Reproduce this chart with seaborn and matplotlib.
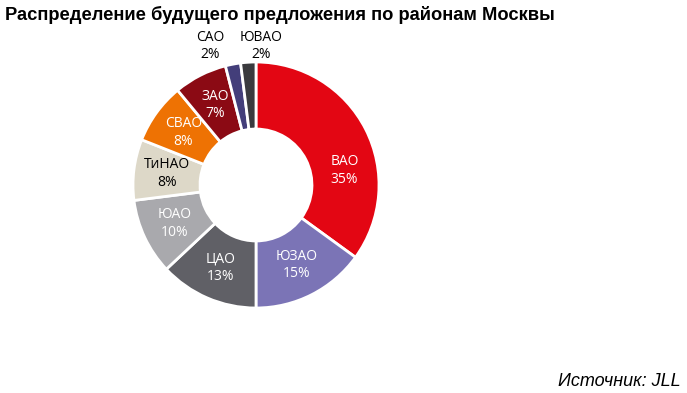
import matplotlib
matplotlib.use("Agg")
import numpy as np
import matplotlib.pyplot as plt
import seaborn as sns

# Data
districts = ["ВАО", "ЮЗАО", "ЦАО", "ЮАО", "ТиНАО", "СВАО", "ЗАО", "САО", "ЮВАО"]
shares = [35, 15, 13, 10, 8, 8, 7, 2, 2]
colors = ["#E30613", "#7B74B6", "#606066", "#A9A9AD", "#DDD8C8",
          "#EE7203", "#8B0A14", "#433E7A", "#3A3A3E"]
text_colors = ["white", "white", "white", "white", "black",
               "white", "white", "black", "black"]

sns.set_style("white")
plt.rcParams["font.family"] = ["Liberation Sans", "DejaVu Sans"]

fig = plt.figure(figsize=(6.87, 3.93), dpi=100)
ax = fig.add_axes([133 / 687, 85 / 393, 246 / 687, 246 / 393])

wedges, _ = ax.pie(shares, colors=sns.color_palette(colors), startangle=90,
                   counterclock=False, radius=1,
                   wedgeprops=dict(width=0.545, edgecolor="white", linewidth=2))
ax.set_xlim(-1, 1)
ax.set_ylim(-1, 1)
ax.axis("off")

# labels moved by hand (outside for tiny slices, ВАО nudged down)
moved = {"ВАО": (0.72, 0.12), "САО": (-0.37, 1.13), "ЮВАО": (0.04, 1.13)}

for w, name, val, tc in zip(wedges, districts, shares, text_colors):
    label = f"{name}\n{val}%"
    if name in moved:
        x, y = moved[name]
    else:
        ang = np.deg2rad((w.theta1 + w.theta2) / 2)
        x, y = 0.73 * np.cos(ang), 0.73 * np.sin(ang)
    ax.text(x, y, label, ha="center", va="center", color=tc,
            fontsize=10, family=["Open Sans", "DejaVu Sans"], linespacing=1.25)

fig.text(5 / 687, 1 - 15 / 393, "Распределение будущего предложения по районам Москвы",
         ha="left", va="center", fontsize=13.25, fontweight="bold", color="black")
fig.text(681 / 687, 1 - 381 / 393, "Источник: JLL", ha="right", va="center",
         fontsize=13, style="italic", color="black")

fig.savefig("out.png", dpi=100)
